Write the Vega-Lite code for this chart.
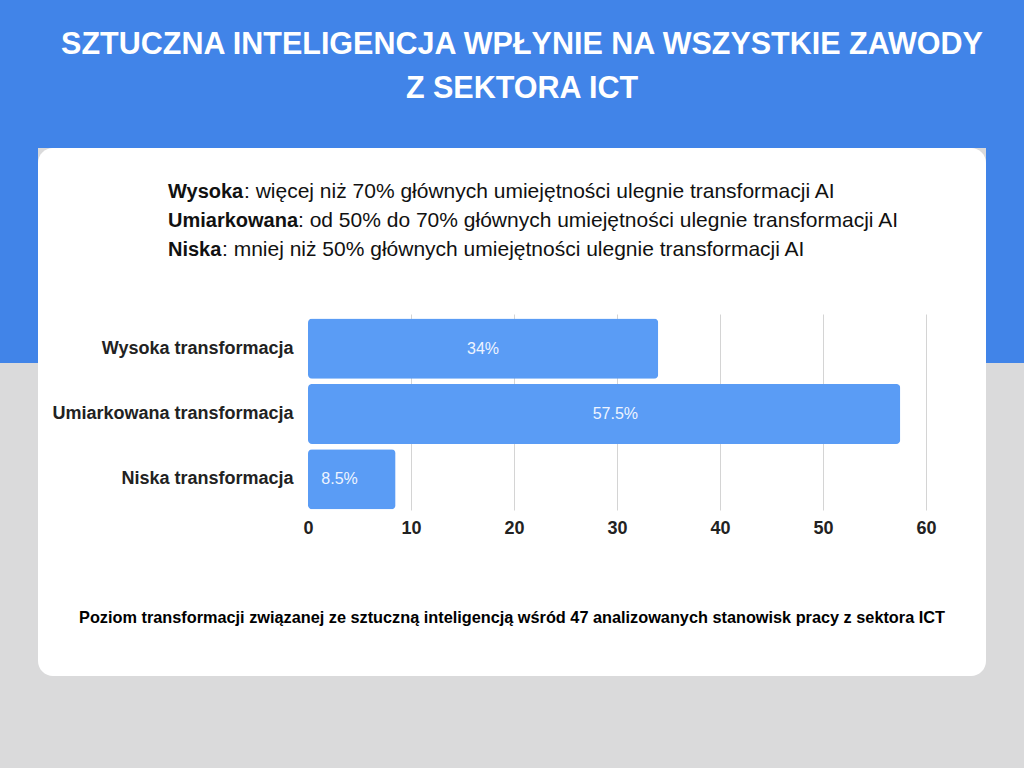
{
  "$schema": "https://vega.github.io/schema/vega-lite/v6.json",
  "background": "#dadadb",
  "padding": {"left": 0, "top": 0, "right": 0, "bottom": 92},
  "autosize": {"type": "pad"},
  "bounds": "flush",
  "columns": 3,
  "spacing": 0,
  "align": "each",
  "config": {"view": {"stroke": null}, "font": "Liberation Sans"},
  "datasets": {
    "wyniki": [
      {"kategoria": "Wysoka transformacja", "wartosc": 34, "etykieta": "34%"},
      {"kategoria": "Umiarkowana transformacja", "wartosc": 57.5, "etykieta": "57.5%"},
      {"kategoria": "Niska transformacja", "wartosc": 8.5, "etykieta": "8.5%"}
    ],
    "objasnienia": [
      {"pojecie": "Wysoka", "opis": ": więcej niż 70% głównych umiejętności ulegnie transformacji AI"},
      {"pojecie": "Umiarkowana", "opis": ": od 50% do 70% głównych umiejętności ulegnie transformacji AI"},
      {"pojecie": "Niska", "opis": ": mniej niż 50% głównych umiejętności ulegnie transformacji AI"}
    ],
    "naglowek": [
      {"wiersz": "SZTUCZNA INTELIGENCJA WPŁYNIE NA WSZYSTKIE ZAWODY"},
      {"wiersz": "Z SEKTORA ICT"}
    ],
    "pusty": []
  },
  "concat": [
    {
      "width": 38, "height": 148,
      "view": {"fill": "#4184e8", "stroke": null},
      "data": {"name": "pusty"},
      "mark": {"type": "point"}
    },
    {
      "width": 948,
      "height": 148,
      "view": {"fill": "#4184e8", "stroke": null},
      "data": {"name": "naglowek"},
      "mark": {"type": "text", "font": "Liberation Sans", "fontWeight": "bold", "fontSize": 30.5, "color": "#ffffff", "align": "center", "baseline": "middle", "dx": 10},
      "encoding": {
        "y": {"field": "wiersz", "type": "nominal", "sort": null, "scale": {"type": "point", "range": [45, 89], "padding": 0}, "axis": null},
        "text": {"field": "wiersz"}
      }
    },
    {
      "width": 38, "height": 148,
      "view": {"fill": "#4184e8", "stroke": null},
      "data": {"name": "pusty"},
      "mark": {"type": "point"}
    },
    {
      "width": 38, "height": 528,
      "view": {"stroke": null, "fill": {"gradient": "linear", "x1": 0, "y1": 0, "x2": 0, "y2": 1, "stops": [{"offset": 0, "color": "#4184e8"}, {"offset": 0.407, "color": "#4184e8"}, {"offset": 0.4071, "color": "#dadadb"}, {"offset": 1, "color": "#dadadb"}]}},
      "data": {"name": "pusty"},
      "mark": {"type": "point"}
    },
    {
      "width": 948,
      "height": 528,
      "view": {"fill": "#ffffff", "stroke": null, "cornerRadius": 15},
      "resolve": {"scale": {"x": "independent", "y": "independent"}, "axis": {"x": "independent", "y": "independent"}},
      "layer": [
        {
          "data": {"name": "wyniki"},
          "mark": {"type": "bar", "color": "#5a9cf5", "cornerRadius": 4},
          "encoding": {
            "y": {
              "field": "kategoria", "type": "nominal", "sort": null,
              "scale": {"type": "band", "domain": ["Wysoka transformacja", "Umiarkowana transformacja", "Niska transformacja"], "range": [166, 362], "paddingInner": 0.08, "paddingOuter": 0.04, "align": 0.88},
              "axis": {"orient": "left", "offset": -262, "title": null, "domain": false, "ticks": false, "tickSize": 0, "labelPadding": 7, "labelFont": "Liberation Sans", "labelFontSize": 18, "labelFontWeight": "bold", "labelColor": "#222222", "labelLimit": 400, "grid": false}
            },
            "x": {
              "field": "wartosc", "type": "quantitative",
              "scale": {"domain": [0, 60], "range": [270, 888], "nice": false, "zero": true},
              "axis": {
                "orient": "bottom", "offset": -166, "values": [0, 10, 20, 30, 40, 50, 60],
                "domain": false, "ticks": false, "tickSize": 0, "labelPadding": 9,
                "labelFont": "Liberation Sans", "labelFontSize": 18, "labelFontWeight": "bold", "labelColor": "#222222",
                "labelFlush": false, "labelOverlap": false,
                "grid": true, "gridColor": "#d4d4d4", "gridWidth": 1,
                "gridOpacity": {"condition": {"test": "datum.value === 0", "value": 0}, "value": 1},
                "title": "Poziom transformacji związanej ze sztuczną inteligencją wśród 47 analizowanych stanowisk pracy z sektora ICT",
                "titleFont": "Liberation Sans", "titleFontSize": 16.3, "titleFontWeight": "bold", "titleColor": "#000000",
                "titleX": 473.5, "titleY": 107, "titleAlign": "center", "titleBaseline": "middle", "titleLimit": 2000
              }
            }
          }
        },
        {
          "data": {"name": "wyniki"},
          "mark": {"type": "text", "font": "Liberation Sans", "fontSize": 16, "color": "#eef4ff", "align": "center", "baseline": "middle"},
          "encoding": {
            "y": {
              "field": "kategoria", "type": "nominal", "sort": null,
              "scale": {"type": "band", "domain": ["Wysoka transformacja", "Umiarkowana transformacja", "Niska transformacja"], "range": [166, 362], "paddingInner": 0.08, "paddingOuter": 0.04, "align": 0.88},
              "axis": null
            },
            "x": {"field": "wartosc", "type": "quantitative", "scale": {"domain": [0, 60], "range": [253.7, 591.4], "nice": false, "zero": false}, "axis": null},
            "text": {"field": "etykieta"}
          }
        },
        {
          "data": {"name": "objasnienia"},
          "mark": {"type": "text", "font": "Liberation Sans", "fontSize": 20, "fontWeight": "bold", "color": "#111111", "align": "left", "baseline": "middle", "dx": -344},
          "encoding": {
            "y": {"field": "pojecie", "type": "nominal", "sort": null, "scale": {"type": "point", "domain": ["Wysoka", "Umiarkowana", "Niska"], "range": [44, 102], "padding": 0}, "axis": null},
            "text": {"field": "pojecie"}
          }
        },
        {
          "data": {"name": "objasnienia"},
          "mark": {"type": "text", "font": "Liberation Sans", "fontSize": 21, "color": "#111111", "align": "left", "baseline": "middle",
                   "dx": {"expr": "datum.pojecie === 'Wysoka' ? -268 : (datum.pojecie === 'Umiarkowana' ? -214 : -290)"}},
          "encoding": {
            "y": {"field": "pojecie", "type": "nominal", "sort": null, "scale": {"type": "point", "domain": ["Wysoka", "Umiarkowana", "Niska"], "range": [44, 102], "padding": 0}, "axis": null},
            "text": {"field": "opis"}
          }
        }
      ]
    },
    {
      "width": 38, "height": 528,
      "view": {"stroke": null, "fill": {"gradient": "linear", "x1": 0, "y1": 0, "x2": 0, "y2": 1, "stops": [{"offset": 0, "color": "#4184e8"}, {"offset": 0.407, "color": "#4184e8"}, {"offset": 0.4071, "color": "#dadadb"}, {"offset": 1, "color": "#dadadb"}]}},
      "data": {"name": "pusty"},
      "mark": {"type": "point"}
    }
  ]
}
